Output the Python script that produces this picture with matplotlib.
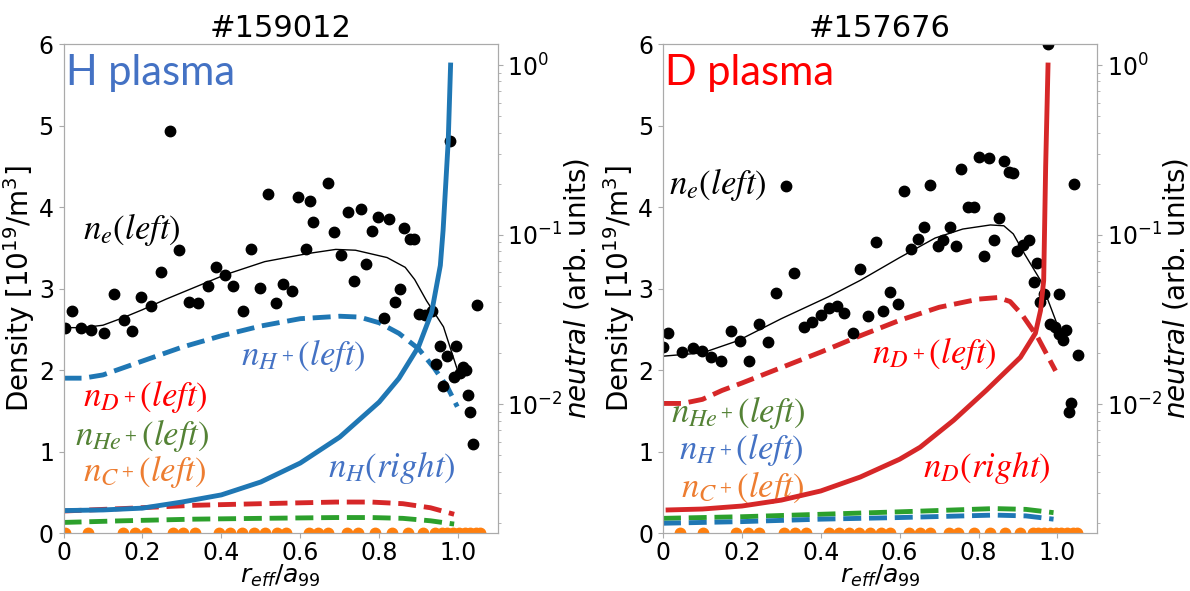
import numpy as np
import matplotlib.pyplot as plt

# ---------------- shot #159012 (H plasma) ----------------
h_ne_r = [0.003, 0.021, 0.045, 0.070, 0.103, 0.127, 0.152, 0.173, 0.197, 0.222,
          0.246, 0.271, 0.293, 0.317, 0.342, 0.365, 0.386, 0.410, 0.429, 0.454,
          0.474, 0.497, 0.517, 0.538, 0.557, 0.579, 0.594, 0.615, 0.624, 0.633,
          0.670, 0.686, 0.704, 0.721, 0.736, 0.753, 0.767, 0.782, 0.798, 0.811,
          0.825, 0.839, 0.852, 0.864, 0.877, 0.889, 0.901, 0.917, 0.934, 0.943,
          0.953, 0.963, 0.973, 0.979, 0.989, 0.995, 1.005, 1.012, 1.020, 1.026,
          1.031, 1.039, 1.048]
h_ne = [2.52, 2.72, 2.51, 2.49, 2.46, 2.93, 2.61, 2.48, 2.90, 2.79,
        3.20, 4.93, 3.47, 2.84, 2.82, 3.03, 3.26, 3.17, 3.03, 2.72,
        3.48, 3.01, 4.16, 2.82, 3.06, 2.97, 4.12, 3.48, 4.08, 3.82,
        4.29, 3.69, 3.41, 3.94, 3.09, 3.98, 3.30, 3.70, 3.88, 2.64,
        3.85, 2.84, 2.99, 3.74, 3.61, 3.61, 2.69, 2.68, 2.72, 2.08,
        2.30, 1.80, 2.17, 4.81, 1.91, 2.29, 1.96, 2.04, 2.00, 1.69,
        1.49, 1.09, 2.80]
h_fit_r = [0, 0.05, 0.1, 0.15, 0.2, 0.26, 0.3, 0.41, 0.51, 0.62, 0.69, 0.74,
           0.82, 0.866, 0.89, 0.92, 0.963, 0.997]
h_fit = [2.52, 2.52, 2.55, 2.64, 2.74, 2.87, 2.95, 3.17, 3.33, 3.43, 3.48, 3.47,
         3.38, 3.26, 3.11, 2.85, 2.53, 2.02]
h_nHp_r = [0, 0.05, 0.1, 0.2, 0.3, 0.4, 0.5, 0.6, 0.7, 0.75, 0.8, 0.85, 0.9,
           0.94, 0.973, 0.998]
h_nHp = [1.90, 1.90, 1.94, 2.11, 2.28, 2.42, 2.54, 2.63, 2.66, 2.65, 2.58, 2.45,
         2.26, 2.02, 1.79, 1.55]
h_imp_r = [0, 0.15, 0.33, 0.5, 0.69, 0.78, 0.86, 0.93, 0.99]
h_nDp = [0.27, 0.30, 0.34, 0.36, 0.38, 0.38, 0.36, 0.31, 0.23]
h_nHep = [0.13, 0.15, 0.17, 0.18, 0.19, 0.19, 0.18, 0.15, 0.11]
h_nC_r = [0.003, 0.062, 0.150, 0.181, 0.208, 0.277, 0.303, 0.332, 0.394, 0.423,
          0.453, 0.482, 0.511, 0.540, 0.565, 0.621, 0.645, 0.670, 0.718, 0.746,
          0.789, 0.833, 0.872, 0.911, 0.941, 0.958, 0.973, 0.987, 1.002, 1.017,
          1.031, 1.046, 1.056]
h_nC = [0.0, 0.0, 0.0, 0.0, 0.0, 0.0, 0.0, 0.0, 0.0, 0.0, 0.0, 0.0, 0.0, 0.0,
        0.0, 0.0, 0.0, 0.0, 0.0, 0.0, 0.0, 0.0, 0.0, 0.0, 0.0, 0.0, 0.0, 0.0,
        0.0, 0.0, 0.0, 0.0, 0.0]
h_nH_r = [0, 0.1, 0.2, 0.3, 0.4, 0.5, 0.6, 0.7, 0.8, 0.85, 0.9, 0.933, 0.955,
          0.962, 0.975, 0.981]
h_nH = [2.36e-3, 2.38e-3, 2.44e-3, 2.65e-3, 2.92e-3, 3.48e-3, 4.50e-3, 6.40e-3,
        1.03e-2, 1.42e-2, 2.19e-2, 3.48e-2, 6.58e-2, 0.106, 0.357, 1.0]

# ---------------- shot #157676 (D plasma) ----------------
d_ne_r = [0.000, 0.014, 0.049, 0.075, 0.099, 0.123, 0.147, 0.172, 0.196, 0.218,
          0.243, 0.266, 0.287, 0.313, 0.333, 0.357, 0.378, 0.401, 0.422, 0.442,
          0.459, 0.482, 0.500, 0.520, 0.539, 0.558, 0.576, 0.595, 0.610, 0.628,
          0.647, 0.662, 0.678, 0.696, 0.711, 0.727, 0.742, 0.756, 0.774, 0.788,
          0.800, 0.813, 0.827, 0.839, 0.852, 0.864, 0.878, 0.888, 0.898, 0.912,
          0.927, 0.940, 0.949, 0.956, 0.967, 0.976, 0.982, 0.993, 1.003, 1.005,
          1.015, 1.021, 1.028, 1.034, 1.042, 1.051]
d_ne = [2.28, 2.46, 2.22, 2.27, 2.23, 2.16, 2.11, 2.48, 2.36, 2.11,
        2.57, 2.34, 2.95, 4.26, 3.19, 2.53, 2.59, 2.67, 2.76, 2.78,
        2.70, 2.46, 3.24, 2.66, 3.57, 2.73, 2.96, 2.81, 4.20, 3.49,
        3.61, 3.75, 4.27, 3.52, 3.60, 3.75, 3.52, 4.47, 4.00, 4.00,
        4.61, 3.40, 4.60, 3.60, 3.87, 4.56, 4.43, 4.42, 3.46, 3.53,
        3.60, 3.08, 3.31, 2.84, 2.93, 6.00, 2.57, 2.53, 2.44, 2.93,
        2.37, 2.49, 1.49, 1.59, 4.28, 2.19]
d_fit_r = [0, 0.1, 0.19, 0.3, 0.42, 0.5, 0.6, 0.69, 0.76, 0.83, 0.864, 0.888,
           0.917, 0.957, 1.0]
d_fit = [2.17, 2.21, 2.36, 2.63, 2.90, 3.10, 3.38, 3.62, 3.73, 3.78, 3.77, 3.67,
         3.42, 3.10, 2.55]
d_nDp_r = [0, 0.05, 0.1, 0.15, 0.2, 0.3, 0.4, 0.5, 0.6, 0.7, 0.8, 0.85, 0.88,
           0.91, 0.95, 0.995]
d_nDp = [1.59, 1.59, 1.64, 1.75, 1.84, 2.03, 2.22, 2.42, 2.61, 2.77, 2.87, 2.89,
         2.84, 2.68, 2.40, 1.99]
d_imp_r = [0, 0.2, 0.4, 0.6, 0.84, 0.92, 0.99]
d_nHep = [0.18, 0.20, 0.23, 0.26, 0.30, 0.29, 0.25]
d_nHp = [0.12, 0.14, 0.17, 0.19, 0.22, 0.21, 0.17]
d_nC_r = [0.043, 0.102, 0.186, 0.215, 0.243, 0.306, 0.335, 0.362, 0.420, 0.446,
          0.472, 0.498, 0.524, 0.552, 0.576, 0.623, 0.651, 0.676, 0.724, 0.749,
          0.788, 0.830, 0.868, 0.904, 0.937, 0.951, 0.966, 0.980, 0.995, 1.010,
          1.024, 1.039, 1.049]
d_nC = [0.0, 0.0, 0.0, 0.0, 0.0, 0.0, 0.0, 0.0, 0.0, 0.0, 0.0, 0.0, 0.0, 0.0,
        0.0, 0.0, 0.0, 0.0, 0.0, 0.0, 0.0, 0.0, 0.0, 0.0, 0.0, 0.0, 0.0, 0.0,
        0.0, 0.0, 0.0, 0.0, 0.0]
d_nD_r = [0.013, 0.1, 0.2, 0.3, 0.4, 0.5, 0.6, 0.652, 0.737, 0.82, 0.906, 0.944,
          0.957, 0.965, 0.970, 0.976]
d_nD = [2.38e-3, 2.41e-3, 2.51e-3, 2.72e-3, 3.08e-3, 3.72e-3, 4.74e-3, 5.58e-3,
        8.05e-3, 1.21e-2, 1.89e-2, 2.62e-2, 3.57e-2, 5.36e-2, 0.251, 1.0]

xticks = [0, 0.2, 0.4, 0.6, 0.8, 1.0]
xticklabels = ['0', '0.2', '0.4', '0.6', '0.8', '1.0']

c_blue, c_red, c_green, c_orange = '#1f77b4', '#d62728', '#2ca02c', '#ff7f0e'
t_blue, t_red, t_green, t_orange = '#4472c4', '#ff0000', '#548235', '#ed7d31'
grey = '#aaaaaa'

fig = plt.figure(figsize=(11.9, 5.91), dpi=100)


def panel(left, title, tag, tag_col):
    ax = fig.add_axes([left, 0.0981, 0.3647, 0.8274])
    ax.set_xlim(0, 1.1)
    ax.set_ylim(0, 6)
    ax.set_xticks(xticks)
    ax.set_xticklabels(xticklabels)
    ax.set_yticks(range(7))
    ax.set_title(title, fontsize=22, pad=5)
    ax.set_xlabel(r'$r_{eff}/a_{99}$', fontsize=18, labelpad=-1)
    ax.set_ylabel(r'Density [$10^{19}$/m$^3$]', fontsize=20, labelpad=1)
    ax2 = ax.twinx()
    ax2.set_yscale('log')
    ax2.set_ylim(1.74e-3, 1.33)
    ax2.set_ylabel(r'$neutral$ (arb. units)', fontsize=20, labelpad=0)
    for a in (ax, ax2):
        for s in a.spines.values():
            s.set_color(grey)
        a.tick_params(which='both', colors=grey, labelcolor='black', labelsize=17)
    ax.tick_params(axis='x', pad=2)
    ax.text(0.005, 5.65, tag, color=tag_col, fontsize=30, family='Lato',
            ha='left', va='center')
    return ax, ax2


def lab(ax, x, y, s, col):
    ax.text(x, y, s, color=col, fontsize=25, math_fontfamily='stix',
            ha='left', va='center')


# ---- left panel ----
ax, ax2 = panel(0.0534, '#159012', 'H plasma', t_blue)
ax.plot(h_imp_r, h_nHep, '--', color=c_green, lw=3.5)
ax.plot(h_imp_r, h_nDp, '--', color=c_red, lw=3.5)
ax.plot(h_nHp_r, h_nHp, '--', color=c_blue, lw=3.5)
ax.plot(h_fit_r, h_fit, '-', color='black', lw=1)
ax.plot(h_ne_r, h_ne, 'o', color='black', ms=7.5)
ax.plot(h_nC_r, h_nC, 'o', color=c_orange, ms=7.5)
ax2.plot(h_nH_r, h_nH, '-', color=c_blue, lw=3.5)
lab(ax, 0.05, 3.73, r'$n_e(left)$', 'black')
lab(ax, 0.45, 2.18, r'$n_{H^+}(left)$', t_blue)
lab(ax, 0.05, 1.67, r'$n_{D^+}(left)$', t_red)
lab(ax, 0.03, 1.20, r'$n_{He^+}(left)$', t_green)
lab(ax, 0.05, 0.75, r'$n_{C^+}(left)$', t_orange)
lab(ax, 0.67, 0.80, r'$n_H(right)$', t_blue)

# ---- right panel ----
ax, ax2 = panel(0.5571, '#157676', 'D plasma', t_red)
ax.plot(d_imp_r, d_nHep, '--', color=c_green, lw=3.5)
ax.plot(d_imp_r, d_nHp, '--', color=c_blue, lw=3.5)
ax.plot(d_nDp_r, d_nDp, '--', color=c_red, lw=3.5)
ax.plot(d_fit_r, d_fit, '-', color='black', lw=1)
ax.plot(d_ne_r, d_ne, 'o', color='black', ms=7.5)
ax.plot(d_nC_r, d_nC, 'o', color=c_orange, ms=7.5)
ax2.plot(d_nD_r, d_nD, '-', color=c_red, lw=3.5)
lab(ax, 0.015, 4.28, r'$n_e(left)$', 'black')
lab(ax, 0.53, 2.20, r'$n_{D^+}(left)$', t_red)
lab(ax, 0.02, 1.48, r'$n_{He^+}(left)$', t_green)
lab(ax, 0.04, 1.02, r'$n_{H^+}(left)$', t_blue)
lab(ax, 0.045, 0.56, r'$n_{C^+}(left)$', t_orange)
lab(ax, 0.66, 0.80, r'$n_D(right)$', t_red)

fig.savefig('out.png', dpi=100)
